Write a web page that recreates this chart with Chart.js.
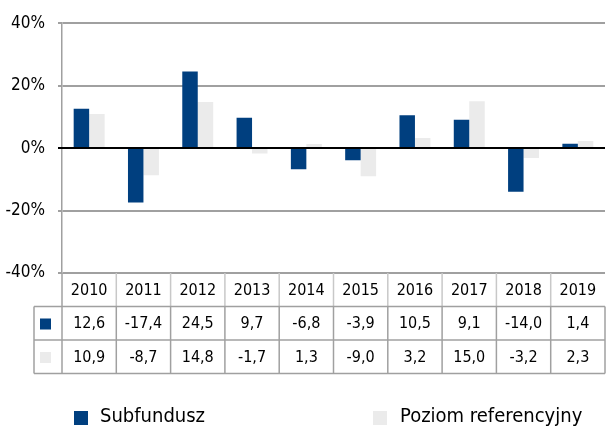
<!DOCTYPE html>
<html>
<head>
<meta charset="utf-8">
<script src="https://cdn.jsdelivr.net/npm/chart.js@4/dist/chart.umd.min.js"></script>
<style>
  html, body { margin: 0; padding: 0; background: #fff; }
  #wrap { width: 606px; height: 426px; }
</style>
</head>
<body>
<div id="wrap"><canvas id="myChart" width="606" height="426"></canvas></div>
<script>
// Years and yearly returns (%)
const years = ['2010', '2011', '2012', '2013', '2014', '2015', '2016', '2017', '2018', '2019'];
const subfundusz = [12.6, -17.4, 24.5, 9.7, -6.8, -3.9, 10.5, 9.1, -14.0, 1.4];
const poziomRef = [10.9, -8.7, 14.8, -1.7, 1.3, -9.0, 3.2, 15.0, -3.2, 2.3];
const yTicks = [-40, -20, 0, 20, 40];

const BLUE = '#003f7f';
const GREY = '#ebebeb';
const LINE = '#a0a0a0';
const FONT = '"DejaVu Sans Condensed", "DejaVu Sans", sans-serif';

const fmt = v => v.toFixed(1).replace('.', ',');

// Data table under the plot plus the legend line at the bottom
const tablePlugin = {
  id: 'dataTable',
  afterDraw(chart) {
    const ctx = chart.ctx;
    const x = chart.scales.x;
    const area = chart.chartArea;
    const rowH = 33.5;
    const top = area.bottom;
    const left = area.left;
    const right = area.right;
    const markLeft = 34;
    const colW = (right - left) / years.length;

    ctx.save();
    ctx.font = '16px ' + FONT;
    ctx.fillStyle = '#000';
    ctx.textAlign = 'center';
    ctx.textBaseline = 'middle';

    // header row with years
    years.forEach((y, i) => {
      ctx.fillText(y, x.getPixelForValue(i), top + rowH / 2 + 1);
    });
    const rows = [subfundusz, poziomRef];
    rows.forEach((vals, r) => {
      const cy = top + rowH * (r + 1) + rowH / 2 + 1;
      vals.forEach((v, i) => ctx.fillText(fmt(v), x.getPixelForValue(i), cy));
    });

    // legend keys in the first column
    ctx.fillStyle = BLUE;
    ctx.fillRect(40, top + rowH + 12, 11, 11);
    ctx.fillStyle = GREY;
    ctx.fillRect(40, top + rowH * 2 + 12, 11, 11);

    // grid of the table
    ctx.strokeStyle = '#c8c8c8';
    ctx.lineWidth = 1.5;
    for (let i = 1; i < years.length; i++) {
      const cx = left + colW * i;
      ctx.beginPath();
      ctx.moveTo(cx, top);
      ctx.lineTo(cx, top + rowH);
      ctx.stroke();
    }
    ctx.strokeStyle = LINE;
    for (let i = 0; i <= years.length; i++) {
      const cx = left + colW * i;
      ctx.beginPath();
      ctx.moveTo(cx, i === 0 ? top : top + rowH);
      ctx.lineTo(cx, top + rowH * 3);
      ctx.stroke();
    }
    ctx.beginPath();
    ctx.moveTo(markLeft, top + rowH);
    ctx.lineTo(markLeft, top + rowH * 3);
    ctx.stroke();
    [1, 2, 3].forEach(k => {
      ctx.beginPath();
      ctx.moveTo(markLeft, top + rowH * k);
      ctx.lineTo(right, top + rowH * k);
      ctx.stroke();
    });

    // legend
    ctx.font = '20px ' + FONT;
    ctx.textAlign = 'left';
    ctx.textBaseline = 'alphabetic';
    ctx.fillStyle = BLUE;
    ctx.fillRect(74, 411, 14, 14);
    ctx.fillStyle = GREY;
    ctx.fillRect(373, 411, 14, 14);
    ctx.fillStyle = '#000';
    ctx.fillText(chart.data.datasets[0].label, 100, 422);
    ctx.fillText(chart.data.datasets[1].label, 400, 422);
    ctx.restore();
  }
};

// Black zero line drawn over the bars' base
const zeroLine = {
  id: 'zeroLine',
  afterDatasetsDraw(chart) {
    const ctx = chart.ctx;
    const y0 = chart.scales.y.getPixelForValue(0);
    ctx.save();
    ctx.strokeStyle = '#000';
    ctx.lineWidth = 2;
    ctx.beginPath();
    ctx.moveTo(chart.chartArea.left - 4, y0);
    ctx.lineTo(chart.chartArea.right, y0);
    ctx.stroke();
    ctx.restore();
  }
};

const config = {
  type: 'bar',
  data: {
    labels: years,
    datasets: [
      { label: 'Subfundusz', data: subfundusz, backgroundColor: BLUE },
      { label: 'Poziom referencyjny', data: poziomRef, backgroundColor: GREY }
    ]
  },
  options: {
    responsive: false,
    animation: false,
    layout: { padding: { left: 0, right: 1, top: 12, bottom: 153 } },
    datasets: { bar: { barPercentage: 1, categoryPercentage: 0.57 } },
    plugins: {
      legend: { display: false },
      tooltip: { enabled: false }
    },
    scales: {
      x: {
        display: false,
        grid: { display: false }
      },
      y: {
        min: -40,
        max: 40,
        afterFit: scale => { scale.width = 62; },
        afterBuildTicks: scale => { scale.ticks = yTicks.map(v => ({ value: v })); },
        border: { display: true, color: LINE, width: 1.5 },
        grid: { color: LINE, lineWidth: 2, tickLength: 4 },
        ticks: {
          color: '#000',
          padding: 13,
          font: { family: FONT, size: 17 },
          callback: v => v + '%'
        }
      }
    }
  },
  plugins: [zeroLine, tablePlugin]
};

new Chart(document.getElementById('myChart').getContext('2d'), config);
</script>
</body>
</html>
